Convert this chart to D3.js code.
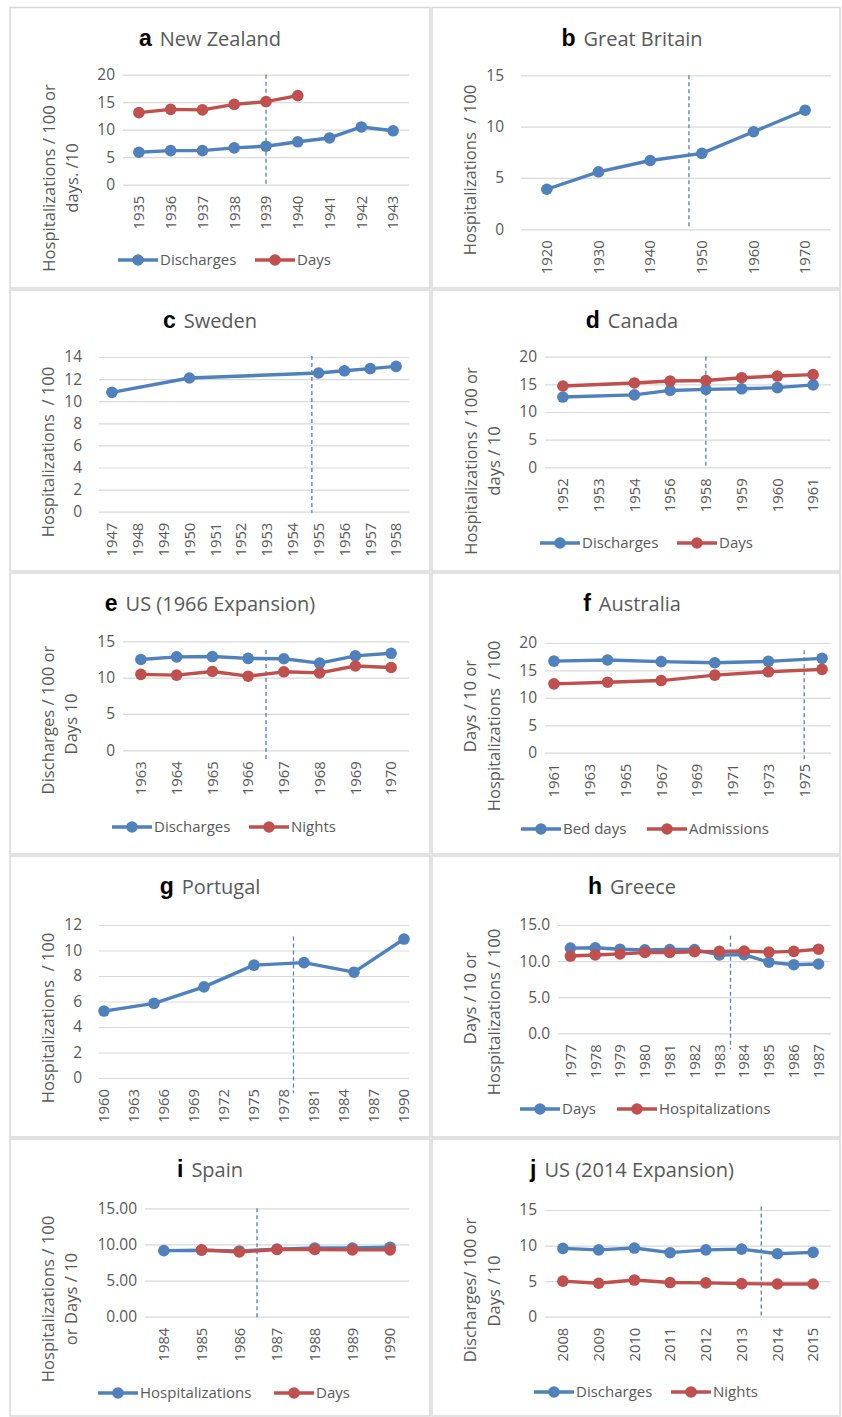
<!DOCTYPE html>
<html><head><meta charset="utf-8">
<script src="https://cdn.jsdelivr.net/npm/d3@7"></script>
<style>body{margin:0;background:#fff}svg{display:block}</style>
</head><body>
<svg id="chart" width="842" height="1417"></svg>
<script>
// ---------------- DATA ----------------
// a New Zealand
const nzCategories = ["1935","1936","1937","1938","1939","1940","1941","1942","1943"];
const nzDischargeYears = ["1935","1936","1937","1938","1939","1940","1941","1942","1943"];
const nzDischarges = [5.9, 6.2, 6.2, 6.7, 7.0, 7.8, 8.5, 10.5, 9.8];
const nzDayYears = ["1935","1936","1937","1938","1939","1940"];
const nzDays = [13.1, 13.7, 13.6, 14.6, 15.1, 16.2];
const nzTicks = [0, 5, 10, 15, 20];

// b Great Britain
const gbCategories = ["1920","1930","1940","1950","1960","1970"];
const gbHosp = [3.9, 5.6, 6.7, 7.4, 9.5, 11.6];
const gbTicks = [0, 5, 10, 15];

// c Sweden
const seCategories = ["1947","1948","1949","1950","1951","1952","1953","1954","1955","1956","1957","1958"];
const seDataYears = ["1947","1950","1955","1956","1957","1958"];
const seHosp = [10.8, 12.1, 12.55, 12.75, 12.95, 13.15];
const seTicks = [0, 2, 4, 6, 8, 10, 12, 14];

// d Canada
const caCategories = ["1952","1953","1954","1956","1958","1959","1960","1961"];
const caDataYears = ["1952","1954","1956","1958","1959","1960","1961"];
const caDischarges = [12.7, 13.1, 13.9, 14.1, 14.2, 14.4, 14.9];
const caDays = [14.7, 15.25, 15.6, 15.7, 16.2, 16.5, 16.75];
const caTicks = [0, 5, 10, 15, 20];

// e US (1966 Expansion)
const us66Categories = ["1963","1964","1965","1966","1967","1968","1969","1970"];
const us66Discharges = [12.5, 12.85, 12.9, 12.65, 12.6, 12.0, 13.0, 13.35];
const us66Nights = [10.45, 10.35, 10.85, 10.2, 10.8, 10.65, 11.6, 11.4];
const us66Ticks = [0, 5, 10, 15];

// f Australia
const auCategories = ["1961","1962","1963","1964","1965","1966","1967","1968","1969","1970","1971","1972","1973","1974","1975","1976"];
const auTickLabels = ["1961","1963","1965","1967","1969","1971","1973","1975"];
const auDataYears = ["1961","1964","1967","1970","1973","1976"];
const auBedDays = [16.7, 16.9, 16.6, 16.4, 16.65, 17.2];
const auAdmissions = [12.55, 12.85, 13.15, 14.15, 14.75, 15.2];
const auTicks = [0, 5, 10, 15, 20];

// g Portugal
const ptCategories = ["1960","1961","1962","1963","1964","1965","1966","1967","1968","1969","1970","1971","1972","1973","1974","1975","1976","1977","1978","1979","1980","1981","1982","1983","1984","1985","1986","1987","1988","1989","1990"];
const ptTickLabels = ["1960","1963","1966","1969","1972","1975","1978","1981","1984","1987","1990"];
const ptDataYears = ["1960","1965","1970","1975","1980","1985","1990"];
const ptHosp = [5.25, 5.85, 7.15, 8.85, 9.05, 8.3, 10.9];
const ptTicks = [0, 2, 4, 6, 8, 10, 12];

// h Greece
const grCategories = ["1977","1978","1979","1980","1981","1982","1983","1984","1985","1986","1987"];
const grDays = [11.8, 11.85, 11.65, 11.55, 11.6, 11.6, 10.85, 10.9, 9.85, 9.5, 9.6];
const grHosp = [10.7, 10.85, 11.0, 11.2, 11.2, 11.3, 11.35, 11.4, 11.25, 11.35, 11.65];
const grTicks = [0, 5, 10, 15];

// i Spain
const esCategories = ["1984","1985","1986","1987","1988","1989","1990"];
const esHosp = [9.15, 9.2, 9.1, 9.35, 9.5, 9.5, 9.6];
const esDayYears = ["1985","1986","1987","1988","1989","1990"];
const esDays = [9.25, 8.95, 9.3, 9.3, 9.25, 9.25];
const esTicks = [0, 5, 10, 15];

// j US (2014 Expansion)
const us14Categories = ["2008","2009","2010","2011","2012","2013","2014","2015"];
const us14Discharges = [9.6, 9.4, 9.65, 9.0, 9.4, 9.5, 8.85, 9.05];
const us14Nights = [5.0, 4.7, 5.15, 4.8, 4.75, 4.65, 4.6, 4.6];
const us14Ticks = [0, 5, 10, 15];

// ---------------- STYLE ----------------
const BLUE = "#4f81bd", RED = "#c0504d", GRID = "#d9d9d9", TXT = "#595959";
const FONT = "'Open Sans','Noto Sans',sans-serif";
const BOLD = "'Liberation Sans',Arial,sans-serif";

const colX = [[10, 430], [432, 840]];
const rowY = [[7.5, 288], [290, 571], [573, 854], [856, 1137], [1139, 1416]];

const svg = d3.select("#chart");

const panels = [
  { letter:"a", name:"New Zealand", col:0, row:0, cats:nzCategories, xLabels:nzCategories,
    x0:123, x1:409, yTop:74.7, yBot:184.7, yMax:20, ticks:nzTicks, fmt:d3.format("d"), tickGap:8,
    series:[{name:"Discharges", color:BLUE, years:nzDischargeYears, vals:nzDischarges},
            {name:"Days", color:RED, years:nzDayYears, vals:nzDays}],
    dash:{idx:4, v0:20, v1:0},
    ytitle:[{t:"Hospitalizations / 100 or", x:49, y:178},{t:"days. /10", x:72, y:178}],
    legend:{y:260, xs:[118,255]} },
  { letter:"b", name:"Great Britain", col:1, row:0, cats:gbCategories, xLabels:gbCategories,
    x0:521, x1:831, yTop:75.3, yBot:229.3, yMax:15, ticks:gbTicks, fmt:d3.format("d"), tickGap:17,
    series:[{name:"Hospitalizations", color:BLUE, years:gbCategories, vals:gbHosp}],
    dash:{idx:2.75, v0:15, v1:0},
    ytitle:[{t:"Hospitalizations  / 100", x:470, y:170}], legend:null },
  { letter:"c", name:"Sweden", col:0, row:1, cats:seCategories, xLabels:seCategories,
    x0:99, x1:409, yTop:357, yBot:511.7, yMax:14, ticks:seTicks, fmt:d3.format("d"), tickGap:17,
    series:[{name:"Hospitalizations", color:BLUE, years:seDataYears, vals:seHosp}],
    dash:{idx:7.74, v0:14.1, v1:-0.1},
    ytitle:[{t:"Hospitalizations  / 100", x:48, y:452}], legend:null },
  { letter:"d", name:"Canada", col:1, row:1, cats:caCategories, xLabels:caCategories,
    x0:545, x1:831, yTop:356.7, yBot:467.3, yMax:20, ticks:caTicks, fmt:d3.format("d"), tickGap:8,
    series:[{name:"Discharges", color:BLUE, years:caDataYears, vals:caDischarges},
            {name:"Days", color:RED, years:caDataYears, vals:caDays}],
    dash:{idx:4, v0:20, v1:0},
    ytitle:[{t:"Hospitalizations / 100 or", x:471, y:461},{t:"days / 10", x:494, y:461}],
    legend:{y:543, xs:[540,677]} },
  { letter:"e", name:"US (1966 Expansion)", col:0, row:2, cats:us66Categories, xLabels:us66Categories,
    x0:123, x1:409, yTop:641.3, yBot:750.3, yMax:15, ticks:us66Ticks, fmt:d3.format("d"), tickGap:8,
    series:[{name:"Discharges", color:BLUE, years:us66Categories, vals:us66Discharges},
            {name:"Nights", color:RED, years:us66Categories, vals:us66Nights}],
    dash:{idx:3.5, v0:13.8, v1:-1.2},
    ytitle:[{t:"Discharges / 100 or", x:48, y:720},{t:"Days 10", x:71, y:724}],
    legend:{y:827, xs:[112,249]} },
  { letter:"f", name:"Australia", col:1, row:2, cats:auCategories, xLabels:auTickLabels,
    x0:545, x1:831, yTop:643, yBot:752.7, yMax:20, ticks:auTicks, fmt:d3.format("d"), tickGap:8,
    series:[{name:"Bed days", color:BLUE, years:auDataYears, vals:auBedDays},
            {name:"Admissions", color:RED, years:auDataYears, vals:auAdmissions}],
    dash:{idx:14, v0:18.7, v1:-1.3},
    ytitle:[{t:"Days / 10 or", x:470, y:706},{t:"Hospitalizations  / 100", x:494, y:726}],
    legend:{y:829, xs:[521,647]} },
  { letter:"g", name:"Portugal", col:0, row:3, cats:ptCategories, xLabels:ptTickLabels,
    x0:99, x1:409, yTop:925, yBot:1078, yMax:12, ticks:ptTicks, fmt:d3.format("d"), tickGap:17,
    series:[{name:"Hospitalizations", color:BLUE, years:ptDataYears, vals:ptHosp}],
    dash:{idx:18.95, v0:11.1, v1:-1.2},
    ytitle:[{t:"Hospitalizations  / 100", x:48, y:1018}], legend:null },
  { letter:"h", name:"Greece", col:1, row:3, cats:grCategories, xLabels:grCategories,
    x0:558, x1:831, yTop:925, yBot:1033.3, yMax:15, ticks:grTicks, fmt:d3.format(".1f"), tickGap:8,
    series:[{name:"Days", color:BLUE, years:grCategories, vals:grDays},
            {name:"Hospitalizations", color:RED, years:grCategories, vals:grHosp}],
    dash:{idx:6.45, v0:13.5, v1:-2.2},
    ytitle:[{t:"Days / 10 or", x:470, y:998},{t:"Hospitalizations / 100", x:494, y:1012}],
    legend:{y:1109, xs:[520,617]} },
  { letter:"i", name:"Spain", col:0, row:4, cats:esCategories, xLabels:esCategories,
    x0:145, x1:409, yTop:1208.3, yBot:1316.7, yMax:15, ticks:esTicks, fmt:d3.format(".2f"), tickGap:8,
    series:[{name:"Hospitalizations", color:BLUE, years:esCategories, vals:esHosp},
            {name:"Days", color:RED, years:esDayYears, vals:esDays}],
    dash:{idx:2.47, v0:15, v1:-0.2},
    ytitle:[{t:"Hospitalizations / 100", x:48, y:1299},{t:"or Days / 10", x:71, y:1299}],
    legend:{y:1393, xs:[98,274]} },
  { letter:"j", name:"US (2014 Expansion)", col:1, row:4, cats:us14Categories, xLabels:us14Categories,
    x0:545, x1:831, yTop:1210, yBot:1316.7, yMax:15, ticks:us14Ticks, fmt:d3.format("d"), tickGap:8,
    series:[{name:"Discharges", color:BLUE, years:us14Categories, vals:us14Discharges},
            {name:"Nights", color:RED, years:us14Categories, vals:us14Nights}],
    dash:{idx:5.55, v0:15.5, v1:-0.2},
    ytitle:[{t:"Discharges/ 100 or", x:470, y:1290},{t:"Days / 10", x:494, y:1291}],
    legend:{y:1392, xs:[534,671]} }
];

function drawPanel(p) {
  const [px0, px1] = colX[p.col], [py0, py1] = rowY[p.row];
  const g = svg.append("g");
  g.append("rect").attr("x", px0).attr("y", py0).attr("width", px1 - px0).attr("height", py1 - py0)
    .attr("fill", "#fff").attr("stroke", GRID).attr("stroke-width", 1.5);

  // title
  const t = g.append("text").attr("x", px0 + 200).attr("y", py0 + 38).attr("text-anchor", "middle");
  t.append("tspan").text(p.letter).attr("font-family", BOLD).attr("font-weight", "bold")
    .attr("font-size", 23).attr("fill", "#000");
  t.append("tspan").text(p.name).attr("dx", 8).attr("font-family", FONT)
    .attr("font-size", 20).attr("fill", TXT);

  const x = d3.scaleBand().domain(p.cats).range([p.x0, p.x1]);
  const y = d3.scaleLinear().domain([0, p.yMax]).range([p.yBot, p.yTop]);
  const cx = c => x(c) + x.bandwidth() / 2;

  // y axis with gridlines
  const ya = g.append("g").attr("transform", `translate(${p.x0},0)`)
    .call(d3.axisLeft(y).tickValues(p.ticks).tickFormat(p.fmt).tickSize(-(p.x1 - p.x0)));
  ya.select(".domain").remove();
  ya.selectAll(".tick line").attr("stroke", GRID).attr("stroke-width", 1.2);
  ya.selectAll(".tick text").attr("x", -p.tickGap).attr("fill", TXT)
    .attr("font-family", FONT).attr("font-size", 15.5);

  // x axis labels
  const xa = g.append("g").attr("transform", `translate(0,${p.yBot})`)
    .call(d3.axisBottom(x).tickValues(p.xLabels).tickSize(0));
  xa.select(".domain").remove();
  xa.selectAll(".tick text").attr("transform", "rotate(-90)").attr("text-anchor", "end")
    .attr("x", -11).attr("y", 0).attr("dy", "0.36em").attr("fill", TXT)
    .attr("font-family", FONT).attr("font-size", 14.8);

  // dashed reference line
  const dx = x(p.cats[0]) + x.step() * (p.dash.idx + 0.5);
  g.append("line").attr("x1", dx).attr("x2", dx).attr("y1", y(p.dash.v0)).attr("y2", y(p.dash.v1))
    .attr("stroke", BLUE).attr("stroke-width", 1.3).attr("stroke-dasharray", "4,3");

  // series
  p.series.forEach(s => {
    const pts = s.years.map((yr, i) => ({ c: yr, v: s.vals[i] }));
    g.append("path").datum(pts)
      .attr("d", d3.line().x(d => cx(d.c)).y(d => y(d.v)))
      .attr("fill", "none").attr("stroke", s.color).attr("stroke-width", 3.4)
      .attr("stroke-linejoin", "round");
    g.selectAll(null).data(pts).enter().append("circle")
      .attr("cx", d => cx(d.c)).attr("cy", d => y(d.v)).attr("r", 5.8).attr("fill", s.color);
  });

  // y title
  p.ytitle.forEach(l => {
    g.append("text").text(l.t).attr("transform", `translate(${l.x},${l.y}) rotate(-90)`)
      .attr("text-anchor", "middle").attr("dy", "0.35em").attr("fill", TXT)
      .attr("font-family", FONT).attr("font-size", 16.6).style("white-space", "pre");
  });

  // legend
  if (p.legend) {
    p.series.forEach((s, i) => {
      const lx = p.legend.xs[i], ly = p.legend.y;
      g.append("line").attr("x1", lx).attr("x2", lx + 40).attr("y1", ly).attr("y2", ly)
        .attr("stroke", s.color).attr("stroke-width", 3.6);
      g.append("circle").attr("cx", lx + 20).attr("cy", ly).attr("r", 5.8).attr("fill", s.color);
      g.append("text").text(s.name).attr("x", lx + 42).attr("y", ly).attr("dy", "0.35em")
        .attr("fill", TXT).attr("font-family", FONT).attr("font-size", 15);
    });
  }
}

panels.forEach(drawPanel);
</script>
</body></html>
